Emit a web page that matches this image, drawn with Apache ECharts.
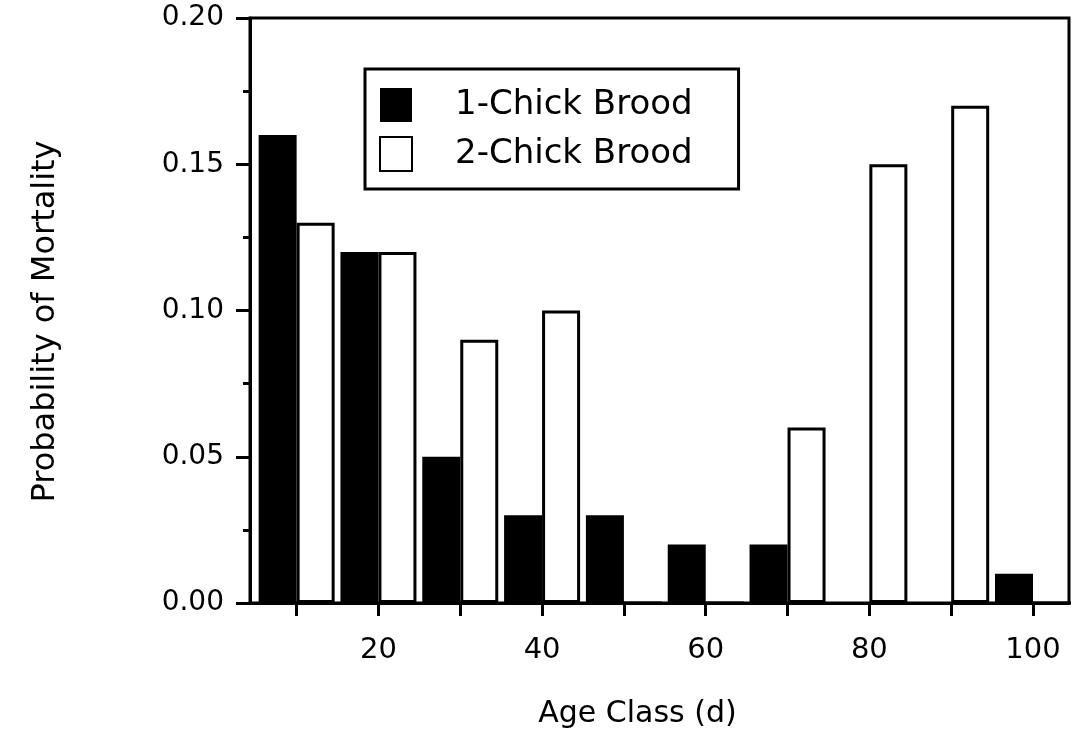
<!DOCTYPE html>
<html>
<head>
<meta charset="utf-8">
<script src="https://cdn.jsdelivr.net/npm/echarts@6/dist/echarts.min.js"></script>
<style>html,body{margin:0;padding:0;background:#fff;}#c{width:1079px;height:750px;}</style>
</head>
<body>
<div id="c"></div>
<script>
const ageClasses = [10, 20, 30, 40, 50, 60, 70, 80, 90, 100];
const oneChick = [0.16, 0.12, 0.05, 0.03, 0.03, 0.02, 0.02, 0, 0, 0.01];
const twoChick = [0.13, 0.12, 0.09, 0.10, 0, 0, 0.06, 0.15, 0.17, 0];
const xTickValues = [10, 20, 30, 40, 50, 60, 70, 80, 90, 100];
const xLabelValues = [20, 40, 60, 80, 100];
const seriesNames = ['1-Chick Brood', '2-Chick Brood'];

const FONT = 'DejaVu Sans';
const chart = echarts.init(document.getElementById('c'), null, {renderer: 'canvas'});
chart.setOption({
  animation: false,
  backgroundColor: '#fff',
  grid: {left: 250, right: 10, top: 18, bottom: 147, show: true, borderColor: '#000', borderWidth: 3, backgroundColor: 'transparent'},
  legend: {
    left: 365, top: 69, orient: 'vertical',
    borderColor: '#000', borderWidth: 3, padding: [19, 46, 17, 14],
    itemWidth: 32, itemHeight: 34, itemGap: 14, icon: 'rect',
    textStyle: {fontFamily: FONT, fontSize: 34, color: '#000', padding: [0, 0, 0, 38]},
    data: seriesNames
  },
  xAxis: {
    type: 'value', min: 4.3, max: 104.4,
    splitLine: {show: false},
    axisLine: {lineStyle: {color: '#000', width: 3}},
    axisTick: {show: true, customValues: xTickValues, length: 13, lineStyle: {color: '#000', width: 3}},
    axisLabel: {customValues: xLabelValues, fontFamily: FONT, fontSize: 29, color: '#000', margin: 33},
    name: 'Age Class (d)', nameLocation: 'middle', nameGap: 96,
    nameTextStyle: {fontFamily: FONT, fontSize: 30, color: '#000', padding: [0, 44, 0, 0]}
  },
  yAxis: {
    type: 'value', min: 0, max: 0.2, interval: 0.05,
    splitLine: {show: false},
    axisLine: {show: true, lineStyle: {color: '#000', width: 3}},
    axisTick: {show: true, length: 14, lineStyle: {color: '#000', width: 3}},
    minorTick: {show: true, splitNumber: 2, length: 7, lineStyle: {color: '#000', width: 3}},
    minorSplitLine: {show: false},
    axisLabel: {formatter: v => v.toFixed(2), fontFamily: FONT, fontSize: 28, color: '#000', margin: 26},
    name: 'Probability of Mortality', nameLocation: 'middle', nameGap: 188, nameRotate: 90,
    nameTextStyle: {fontFamily: FONT, fontSize: 32, color: '#000', padding: [0, 22, 0, 0]}
  },
  series: [
    {
      name: seriesNames[0], type: 'bar', barWidth: 38, barGap: '0%',
      itemStyle: {color: '#000'},
      data: ageClasses.map((a, i) => [a, oneChick[i]])
    },
    {
      name: seriesNames[1], type: 'bar', barWidth: 38, barGap: '0%',
      itemStyle: {color: '#fff', borderColor: '#000', borderWidth: 3},
      data: ageClasses.map((a, i) => [a, twoChick[i]])
    }
  ]
});
</script>
</body>
</html>
